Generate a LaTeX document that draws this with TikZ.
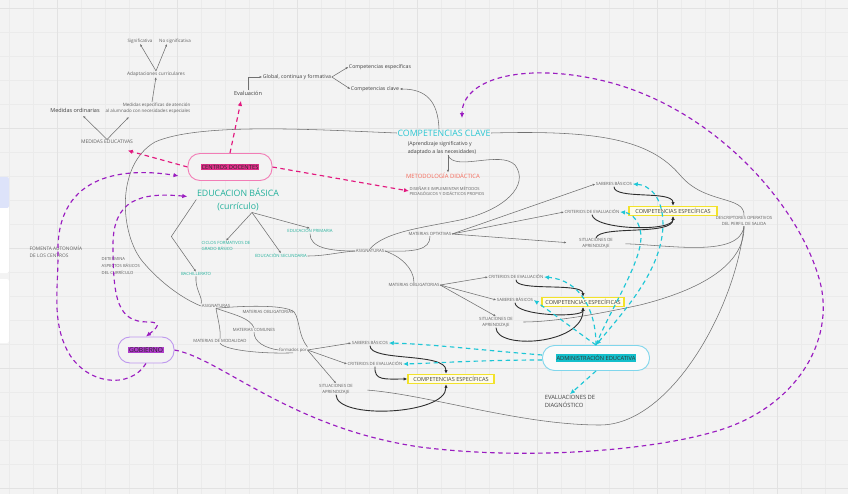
\documentclass[tikz,border=0pt]{standalone}
\usepackage{fontspec}
\setmainfont{Open Sans}
\usetikzlibrary{arrows.meta,calc}

\definecolor{bgc}{HTML}{F3F3F3}
\definecolor{gridmaj}{HTML}{E2E2E2}
\definecolor{gridmin}{HTML}{EBEBEB}
\definecolor{txtg}{HTML}{606060}
\definecolor{txtd}{HTML}{404040}
\definecolor{lineg}{HTML}{707070}
\definecolor{lined}{HTML}{2E2E2E}
\definecolor{pinkd}{HTML}{E2187E}
\definecolor{pinkpill}{HTML}{F27DB6}
\definecolor{pinkbg}{HTML}{E0308A}
\definecolor{cyand}{HTML}{1EC6D6}
\definecolor{cyanclave}{HTML}{2AC6D2}
\definecolor{tealc}{HTML}{22B09B}
\definecolor{salmonc}{HTML}{F46A5A}
\definecolor{purpd}{HTML}{9A1CC0}
\definecolor{purppill}{HTML}{BE98EE}
\definecolor{purpbg}{HTML}{B03CCB}
\definecolor{admpill}{HTML}{80D6EC}
\definecolor{admbg}{HTML}{14BFCB}
\definecolor{yellowc}{HTML}{F2E22A}
\definecolor{panelblue}{HTML}{DDE3FA}

\newcommand{\hilite}[2]{{\setlength{\fboxsep}{0.9pt}\colorbox{#1}{#2}}}

\tikzset{
  lbl/.style={font=\fontsize{4.3}{6}\selectfont, text=txtg, inner sep=0.5pt, align=center},
  lblm/.style={font=\fontsize{4.8}{6}\selectfont, text=txtg, inner sep=0.5pt, align=center},
  lbll/.style={font=\fontsize{5.2}{8}\selectfont, text=txtd, inner sep=0.5pt, align=center},
  tealtxt/.style={lbl, text=tealc},
  headtxt/.style={font=\fontsize{8.8}{13}\selectfont, inner sep=0.5pt, align=center},
  conn/.style={draw=lineg, line width=0.55pt},
  arr/.style={conn, -{Latex[length=2.6pt,width=2.2pt]}},
  darkarr/.style={draw=lined, line width=0.9pt, -{Latex[length=3.8pt,width=3.4pt]}},
  dashbase/.style={line width=1.15pt, dash pattern=on 4.5pt off 3.5pt},
  pinkarr/.style={dashbase, draw=pinkd, -{Latex[length=5pt,width=4.5pt]}},
  purparr/.style={dashbase, draw=purpd, -{Latex[length=5pt,width=4.5pt]}},
  cyanarr/.style={dashbase, draw=cyand, -{Latex[length=5pt,width=4.5pt]}},
  pill/.style={rounded corners=12pt, line width=0.9pt, inner sep=0pt},
  cebox/.style={draw=yellowc, fill=yellowc!10, line width=1.3pt, font=\fontsize{5.6}{6}\selectfont, text=txtd, inner xsep=2pt, inner ysep=1pt},
}

\begin{document}
\begin{tikzpicture}[x=1pt,y=-1pt]
    \useasboundingbox (0,0) rectangle (848,494);
    \fill[bgc] (0,0) rectangle (848,494);
    \foreach \x in {9,33,...,848}
    {
    \draw[gridmin, line width=0.4pt] (\x,0) -- (\x,494);
    }
    \foreach \y in {8,32,...,494}
    {
    \draw[gridmin, line width=0.4pt] (0,\y) -- (848,\y);
    }
    \foreach \x in {57,177,...,777}
    {
    \draw[gridmaj, line width=0.8pt] (\x,0) -- (\x,494);
    }
    \foreach \y in {8,128,...,488}
    {
    \draw[gridmaj, line width=0.8pt] (0,\y) -- (848,\y);
    }
    \fill[white, rounded corners=2pt] (-4,177) rectangle (9,273);
    \fill[panelblue, rounded corners=2pt] (-4,177) rectangle (9,208);
    \fill[white, rounded corners=2pt] (-4,279) rectangle (9,343);

    % medidas y evaluacion
    \node[lbl, font=\fontsize{4.5}{6}\selectfont] (sig) at (140,41) {Significativa};
    \node[lbl, font=\fontsize{4.5}{6}\selectfont] (nosig) at (175,41) {No significativa};
    \node[lblm] (adapt) at (156,74) {Adaptaciones curriculares};
    \node[lblm, font=\fontsize{4.5}{6}\selectfont, align=right] (medesp) at (148,108) {Medidas específicas de atención\\al alumnado con necesidades especiales};
    \node[lbll, font=\fontsize{5.5}{7}\selectfont] (medord) at (75,110) {Medidas ordinarias};
    \node[lblm, font=\fontsize{5}{6}\selectfont] (mededu) at (107,142) {MEDIDAS EDUCATIVAS};
    \node[lbll, font=\fontsize{5.6}{7}\selectfont] (evalu) at (248,93) {Evaluación};
    \node[lbll] (global) at (297,77) {Global, continua y formativa};
    \node[lbll] (compesp) at (380,67) {Competencias específicas};
    \node[lbll] (compclv) at (375,89) {Competencias clave};

    % competencias clave
    \node[headtxt, text=cyanclave] (cc) at (444,133) {COMPETENCIAS CLAVE};
    \node[lbll, align=left] (ccsub) at (442,148) {(Aprendizaje significativo y\\adaptado a las necesidades)};
    \node[lbll, font=\fontsize{5.9}{7}\selectfont, text=salmonc] (metod) at (443,176) {METODOLOGÍA DIDÁCTICA};
    \node[lbl, font=\fontsize{4.1}{5.6}\selectfont, align=left] (disenar) at (447,191) {DISEÑAR E IMPLEMENTAR MÉTODOS\\PEDAGÓGICOS Y DIDÁCTICOS PROPIOS};

    % educacion basica
    \node[pill, draw=pinkpill, fill=bgc, minimum width=84pt, minimum height=27pt] (centros) at (230,167) {\fontsize{5.8}{7}\selectfont\hilite{pinkbg}{\color{black!85}CENTROS DOCENTES}};
    \node[headtxt, text=tealc] (edb) at (238,199.5) {EDUCACION BÁSICA\\(currículo)};
    \node[tealtxt, align=left] (ciclos) at (226,246) {CICLOS FORMATIVOS DE\\GRADO BÁSICO};
    \node[tealtxt] (primaria) at (310,231) {EDUCACIÓN PRIMARIA};
    \node[tealtxt] (secundaria) at (281,256) {EDUCACIÓN SECUNDARIA};
    \node[tealtxt] (bach) at (196,274) {BACHILLERATO};

    % asignaturas
    \node[lbl] (asignU) at (370,251) {ASIGNATURAS};
    \node[lbl] (mopt) at (430,234) {MATERIAS OPTATIVAS};
    \node[lbl] (mobl) at (414,285) {MATERIAS OBLIGATORIAS};
    \node[lbl] (asignL) at (216,306) {ASIGNATURAS};
    \node[lbl] (moblL) at (268,312) {MATERIAS OBLIGATORIAS};
    \node[lbl] (mcom) at (254,330) {MATERIAS COMUNES};
    \node[lbl] (mmod) at (220,341) {MATERIAS DE MODALIDAD};
    \node[lbl] (formados) at (293,350) {formados por};

    % grupo superior
    \node[lbl] (sabT) at (614,184) {SABERES BÁSICOS};
    \node[lbl] (critT) at (592,212) {CRITERIOS DE EVALUACIÓN};
    \node[lbl] (sitT) at (596,243.5) {SITUACIONES DE\\APRENDIZAJE};
    \node[cebox, minimum width=88pt, minimum height=9pt] (ceT) at (673,211) {COMPETENCIAS ESPECÍFICAS};
    \node[lbl] (desc) at (744,221) {DESCRIPTORES OPERATIVOS\\DEL PERFIL DE SALIDA};

    % grupo central
    \node[lbl] (critM) at (516,277) {CRITERIOS DE EVALUACIÓN};
    \node[lbl] (sabM) at (515,300) {SABERES BÁSICOS};
    \node[lbl] (sitM) at (496,322) {SITUACIONES DE\\APRENDIZAJE};
    \node[cebox, minimum width=82pt, minimum height=9pt] (ceM) at (583,302) {COMPETENCIAS ESPECÍFICAS};
    \node[pill, draw=admpill, fill=white!60!bgc, minimum width=107pt, minimum height=25pt] (adm) at (596,358) {\fontsize{5.7}{7}\selectfont\hilite{admbg}{\color{black!80}ADMINISTRACIÓN EDUCATIVA}};
    \node[lbll, font=\fontsize{5.8}{8}\selectfont, align=left] (evald) at (570,401) {EVALUACIONES DE\\DIAGNÓSTICO};

    % grupo inferior
    \node[lbl] (sabB) at (370,343) {SABERES BÁSICOS};
    \node[lbl] (critB) at (375,364) {CRITERIOS DE EVALUACIÓN};
    \node[lbl] (sitB) at (336,389) {SITUACIONES DE\\APRENDIZAJE};
    \node[cebox, minimum width=86pt, minimum height=9pt] (ceB) at (451,379) {COMPETENCIAS ESPECÍFICAS};

    % gobierno
    \node[pill, draw=purppill, fill=bgc, minimum width=56pt, minimum height=26pt] (gob) at (146,350) {\fontsize{6.6}{8}\selectfont\hilite{purpbg}{\color{black!85}GOBIERNO}};
    \node[lbl, font=\fontsize{4.8}{7}\selectfont, align=left, anchor=west] (fomenta) at (29,251.5) {FOMENTA AUTONOMÍA\\DE LOS CENTROS};
    \node[lbl, font=\fontsize{4.2}{6.6}\selectfont, align=left, anchor=west] (determina) at (101,266) {DETERMINA\\ASPECTOS BÁSICOS\\DEL CURRÍCULO};

    % conectores grises
    \draw[arr] (adapt.north) -- (sig.south);
    \draw[arr] (adapt.north) -- ($(nosig.south)+(-8,0)$);
    \draw[arr] ($(medesp.north)+(4,0)$) -- (adapt.south);
    \draw[arr] (mededu.north) -- ($(medord.south)+(8,3)$);
    \draw[arr] (mededu.north) -- ($(medesp.south west)+(24,3)$);
    \draw[arr] (evalu.north) |- (global.west);
    \draw[arr] (global.east) -- (compesp.west);
    \draw[arr] (global.east) -- (compclv.west);
    \draw[arr] ($(cc.north)+(-5,0)$) .. controls (438,100) and (425,89) .. (compclv.east);
    \draw[arr] ($(ccsub.south)+(6,0)$) -- ($(metod.north)+(5,0)$);
    \draw[conn] ($(ccsub.south)+(6,0)$) .. controls (455,172) and (500,150) .. (515,165) .. controls (530,185) and (505,210) .. (460,220) .. controls (420,228) and (385,232) .. (asignU.north);
    \draw[conn] (cc.west) .. controls (320,130) and (200,122) .. (155,142) .. controls (115,165) and (120,235) .. (143,262) .. controls (165,288) and (190,302) .. (asignL.west);
    \draw[conn] (cc.east) .. controls (600,130) and (650,140) .. (680,175) .. controls (705,205) and (745,195) .. (desc.north);
    \draw[conn, shorten >=12pt] (desc.south) .. controls (740,258) and (670,245) .. (sitT.east);
    \draw[conn, shorten >=10pt] (desc.south) .. controls (745,265) and (700,290) .. (640,305) .. controls (580,318) and (545,322) .. (sitM.east);
    \draw[conn, shorten >=14pt] (desc.south) .. controls (735,310) and (670,425) .. (600,425) .. controls (520,425) and (430,395) .. (sitB.east);

    \draw[arr] ($(edb.south)+(14,1)$) -- (ciclos.north);
    \draw[arr] ($(edb.south)+(14,1)$) -- (secundaria.north);
    \draw[arr] ($(edb.south)+(14,1)$) -- (primaria.north);
    \draw[arr] (edb.west) -- ++(-25,37) -- (bach.north);
    \draw[conn] (bach.south) .. controls (195,290) and (203,297) .. (asignL.north west);
    \draw[conn] (primaria.south) .. controls (310,248) and (330,251) .. (asignU.west);
    \draw[conn] (secundaria.east) .. controls (325,256) and (340,252) .. (asignU.west);
    \draw[conn] (asignU.east) .. controls (415,252) and (430,250) .. (mopt.south);
    \draw[conn] (asignU.east) .. controls (400,256) and (414,268) .. (mobl.north);
    \draw[arr] (mopt.east) -- (sabT.west);
    \draw[arr] (mopt.east) -- (critT.west);
    \draw[arr, shorten >=12pt] (mopt.east) -- (sitT.west);
    \draw[arr] (mobl.east) -- (critM.west);
    \draw[arr] (mobl.east) -- (sabM.west);
    \draw[arr] (mobl.east) -- (sitM.north);

    \draw[conn] (asignL.south) .. controls (240,306) and (285,304) .. (moblL.east);
    \draw[conn] (moblL.east) .. controls (300,320) and (298,335) .. (formados.north east);
    \draw[conn] (asignL.south) .. controls (235,315) and (250,318) .. (mcom.north);
    \draw[conn] (mcom.south) .. controls (254,342) and (265,348) .. (formados.west);
    \draw[conn] (asignL.south) .. controls (218,320) and (221,330) .. (mmod.north);
    \draw[conn] (mmod.south) .. controls (225,350) and (260,354) .. (formados.south);
    \draw[arr] (formados.east) -- (sabB.west);
    \draw[arr] (formados.east) -- (critB.west);
    \draw[arr] (formados.east) -- (sitB.north);

    % flechas oscuras
    \draw[darkarr] (sabT.south) .. controls (614,200) and (673,190) .. (ceT.north);
    \draw[darkarr] (critT.south) .. controls (594,230) and (673,232) .. (ceT.south);
    \draw[darkarr] (sitT.north) .. controls (600,225) and (673,236) .. (ceT.south);
    \draw[darkarr] (critM.south) .. controls (515,292) and (583,282) .. (ceM.north);
    \draw[darkarr] (sabM.south) .. controls (515,316) and (583,318) .. (ceM.south);
    \draw[darkarr] (sitM.south) .. controls (496,350) and (583,345) .. (ceM.south);
    \draw[darkarr] (sabB.south) .. controls (370,362) and (446,352) .. ($(ceB.north)+(-5,0)$);
    \draw[darkarr] (critB.south) .. controls (374,381) and (385,379) .. (ceB.west);
    \draw[darkarr] (sitB.south) .. controls (336,420) and (446,415) .. ($(ceB.south)+(-5,0)$);

    % discontinuas
    \draw[pinkarr] (centros.north) -- ($(evalu.south)+(-7,5)$);
    \draw[pinkarr] (centros.west) -- ($(mededu.south east)+(-6,6)$);
    \draw[pinkarr] (centros.east) -- (disenar.west);

    \draw[cyanarr, {Latex[length=5pt,width=4.5pt]}-{Latex[length=5pt,width=4.5pt]}] (adm.north) .. controls (625,310) and (662,270) .. (663,225) .. controls (663,195) and (648,185) .. (sabT.east);
    \draw[cyanarr] (adm.north) .. controls (610,310) and (640,265) .. (641,238) .. controls (641,222) and (632,213) .. (critT.east);
    \draw[cyanarr] (adm.north) .. controls (596,310) and (580,280) .. (critM.east);
    \draw[cyanarr] (adm.north) .. controls (575,330) and (555,315) .. (sabM.east);
    \draw[cyanarr] ($(adm.west)+(0,-3)$) .. controls (480,350) and (430,344) .. (sabB.east);
    \draw[cyanarr] ($(adm.west)+(0,2)$) .. controls (480,360) and (440,363) .. (critB.east);
    \draw[cyanarr] (adm.south) -- (evald.north);

    \coordinate (cctop) at ($(cc.north)+(18,-11)$);
    \draw[purparr] (gob.east) .. controls (220,358) and (290,428) .. (420,447) .. controls (520,460) and (650,452) .. (720,430) .. controls (800,405) and (838,335) .. (818,275) .. controls (795,200) and (710,105) .. (600,80) .. controls (520,62) and (462,80) .. (cctop);
    \draw[purparr] (gob.south) .. controls (130,390) and (85,385) .. (67,350) .. controls (52,320) and (58,290) .. (58,255) .. controls (55,170) and (130,168) .. ($(centros.south west)+(-9,-5)$);
    \draw[purparr, {Latex[length=5pt,width=4.5pt]}-{Latex[length=5pt,width=4.5pt]}] ($(edb.west)+(-9,-3)$) .. controls (140,192) and (113,200) .. (113,245) .. controls (113,300) and (118,322) .. (148,322) .. controls (163,322) and (157,328) .. (gob.north);
\end{tikzpicture}
\end{document}
